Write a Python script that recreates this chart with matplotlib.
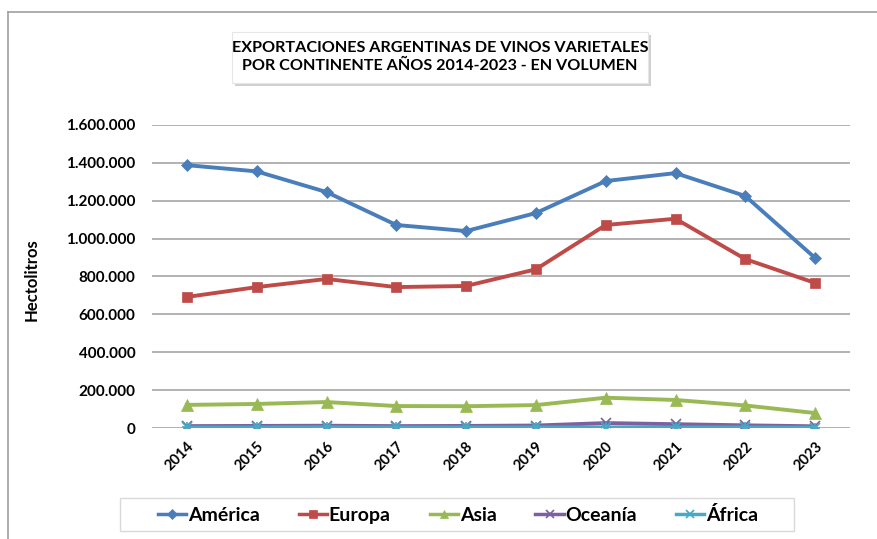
import matplotlib
matplotlib.use("Agg")
import matplotlib.pyplot as plt
from matplotlib.patches import Rectangle
from matplotlib.ticker import FuncFormatter

years = ["2014", "2015", "2016", "2017", "2018", "2019", "2020", "2021", "2022", "2023"]
america = [1388000, 1355000, 1246000, 1072000, 1040000, 1135000, 1304000, 1346000, 1225000, 898000]
europa = [692000, 744000, 787000, 744000, 750000, 838000, 1072000, 1105000, 892000, 766000]
asia = [122000, 127000, 137000, 116000, 115000, 121000, 160000, 148000, 119000, 79000]
oceania = [10000, 11000, 12000, 10000, 11000, 13000, 26000, 20000, 14000, 9000]
africa = [3000, 3000, 4000, 3000, 3000, 3000, 3000, 3000, 3000, 2000]

series = [
    ("América", america, "#4a7ebb", "D", 6.5),
    ("Europa", europa, "#be4b48", "s", 7.5),
    ("Asia", asia, "#98b954", "^", 8),
    ("Oceanía", oceania, "#7d60a0", "x", 7),
    ("África", africa, "#46aac5", "x", 7),
]

plt.rcParams['font.family'] = ['Lato', 'DejaVu Sans']

fig = plt.figure(figsize=(8.78, 5.39), dpi=100)
W, H = 878, 539
ax = fig.add_axes([152 / W, 1 - 428 / H, (850 - 152) / W, (428 - 125) / H])

x = list(range(len(years)))
handles = []
for name, vals, col, mk, ms in series:
    if name == "África":
        h, = ax.plot(x, vals, color=col, lw=2.8, marker="x", ms=ms, mew=1.2, label=name, zorder=3)
        ax.plot(x, vals, color=col, lw=0, marker="+", ms=ms, mew=1.2, zorder=3)
    else:
        h, = ax.plot(x, vals, color=col, lw=2.8, marker=mk, ms=ms, mew=1.2 if mk == "x" else 0.5,
                     mec=col, label=name, zorder=3)
    handles.append(h)

ax.set_xlim(-0.5, len(years) - 0.5)
ax.set_ylim(0, 1600000)
ax.set_yticks(range(0, 1600001, 200000))
ax.yaxis.set_major_formatter(FuncFormatter(lambda v, p: f"{int(v):,}".replace(",", ".")))
ax.set_xticks(x)
ax.set_xticklabels(years, rotation=45, ha="right", rotation_mode="anchor")
ax.tick_params(axis="y", length=0, labelsize=11, pad=12)
ax.tick_params(axis="x", length=0, labelsize=10.5, pad=8)
for lbl in ax.get_xticklabels() + ax.get_yticklabels():
    lbl.set_fontweight("bold")
ax.grid(axis="y", color="#a6a6a6", lw=1.2)
ax.set_axisbelow(True)
for s in ax.spines.values():
    s.set_visible(False)

fig.text(32 / W, 1 - 280 / H, "Hectolitros", rotation=90, ha="center", va="center",
         fontsize=12, fontweight="bold")

# outer frame
fig.add_artist(plt.Line2D([8 / W, 8 / W], [0, 1 - 12 / H], color="#a0a0a0", lw=1.2,
                          transform=fig.transFigure))
fig.add_artist(plt.Line2D([8 / W, 1], [1 - 12 / H, 1 - 12 / H], color="#a0a0a0", lw=1.2,
                          transform=fig.transFigure))

# title box with shadow
bx0, by0, bx1, by1 = 232, 32, 648, 83
fig.add_artist(Rectangle(((bx0 + 3) / W, 1 - (by1 + 3) / H), (bx1 - bx0) / W, (by1 - by0) / H,
                         transform=fig.transFigure, facecolor="#d0d0d0", edgecolor="none"))
fig.add_artist(Rectangle((bx0 / W, 1 - by1 / H), (bx1 - bx0) / W, (by1 - by0) / H,
                         transform=fig.transFigure, facecolor="white", edgecolor="#e6e6e6", lw=0.8))
fig.text((bx0 + bx1) / 2 / W, 1 - 57 / H,
         "EXPORTACIONES ARGENTINAS DE VINOS VARIETALES\nPOR CONTINENTE AÑOS 2014-2023 - EN VOLUMEN",
         ha="center", va="center", fontsize=11.6, fontweight="bold", linespacing=1.35)

# legend box
lx0, ly0, lx1, ly1 = 120, 498, 794, 531
fig.add_artist(Rectangle((lx0 / W, 1 - ly1 / H), (lx1 - lx0) / W, (ly1 - ly0) / H,
                         transform=fig.transFigure, facecolor="white", edgecolor="#d9d9d9", lw=1.0))
leg = fig.legend(handles=handles, loc="center", ncol=5,
                 bbox_to_anchor=(458 / W, 1 - 515 / H), frameon=False,
                 prop={"weight": "bold", "size": 14}, handlelength=1.45, columnspacing=2.0,
                 handletextpad=0.1, borderpad=0.3)
for lh in leg.get_lines():
    lh.set_linewidth(2.5)
    lh.set_markersize(5.5)

fig.savefig("out.png", dpi=100)
